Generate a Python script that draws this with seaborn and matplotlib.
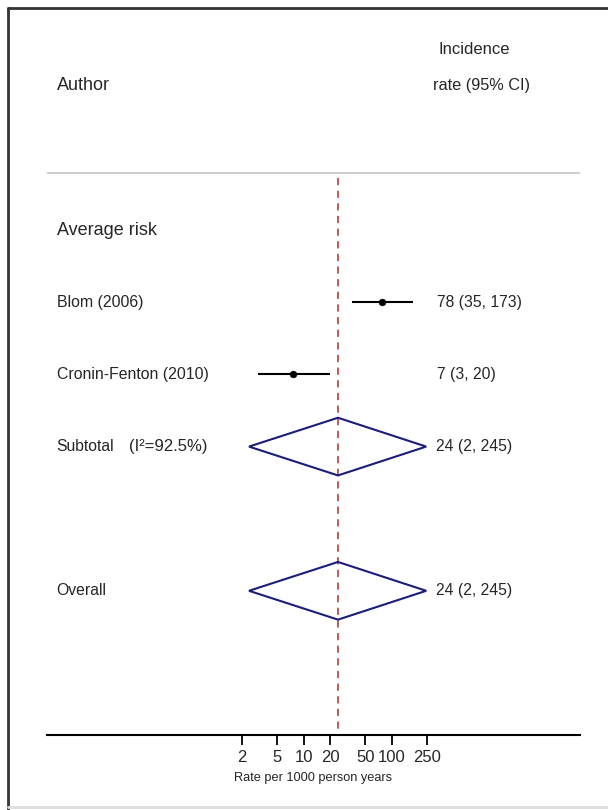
import numpy as np
import pandas as pd
import matplotlib.pyplot as plt
import seaborn as sns
from matplotlib.lines import Line2D
from matplotlib.patches import Polygon
from matplotlib.ticker import NullLocator
from matplotlib.transforms import blended_transform_factory

sns.set_style("white")
plt.rcParams["font.family"] = ["Liberation Sans", "DejaVu Sans"]

# Datos de los estudios
studies = ["Blom (2006)", "Cronin-Fenton (2010)"]
rates = [78, 7.5]
lower = [35, 3]
upper = [173, 20]
study_text = ["78 (35, 173)", "7 (3, 20)"]
study_rows = [1, 2]

# Estimaciones combinadas
pooled_labels = ["Subtotal", "Overall"]
pooled_rate = [24.5, 24.5]
pooled_lower = [2.4, 2.4]
pooled_upper = [245, 245]
pooled_text = ["24 (2, 245)", "24 (2, 245)"]
pooled_rows = [3, 5]

group_label = "Average risk"
heterogeneity = "(I²=92.5%)"
ticks = [2, 5, 10, 20, 50, 100, 250]

df = pd.DataFrame({"study": studies, "rate": rates, "lower": lower,
                   "upper": upper, "row": study_rows})

fig = plt.figure(figsize=(6.08, 8.10), dpi=100)
ax = fig.add_axes([47 / 608, 75 / 810, 533 / 608, 735 / 810])
ax.set_xscale("log")
ax.set_xlim(10 ** -1.910, 10 ** 4.133)
ax.set_ylim(7, -3.194)

# Intervalos de confianza y puntos
ax.hlines(df["row"], df["lower"], df["upper"], color="black", lw=1.5, zorder=2)
sns.scatterplot(data=df, x="rate", y="row", color="black", s=24,
                edgecolor="black", ax=ax, zorder=3, legend=False)

# Diamantes
for est, lo, hi, r in zip(pooled_rate, pooled_lower, pooled_upper, pooled_rows):
    ax.add_patch(Polygon([(lo, r), (est, r - 0.4), (hi, r), (est, r + 0.4)],
                         closed=True, fill=False, edgecolor="#1c1c7c", lw=1.5,
                         zorder=3))

# Linea del efecto global
ax.vlines(pooled_rate[-1], -0.72, 7, color="#b5504a", ls=(0, (4, 3)), lw=1.3,
          zorder=1)
ax.axhline(-0.79, color="#c4c4c4", lw=1.2)

# Textos
tr = blended_transform_factory(ax.transAxes, ax.transData)
xl = (57 - 47) / 533
xr = (437 - 47) / 533
ax.text(xl, -2.01, "Author", transform=tr, fontsize=13, va="center")
ax.text((439 - 47) / 533, -2.51, "Incidence", transform=tr, fontsize=12, va="center")
ax.text((433 - 47) / 533, -2.01, "rate (95% CI)", transform=tr, fontsize=11.7, va="center")
ax.text(xl, 0, group_label, transform=tr, fontsize=13, va="center")
for name, txt, r in zip(studies, study_text, study_rows):
    ax.text(xl, r, name, transform=tr, fontsize=11.4, va="center")
    ax.text(xr, r, txt, transform=tr, fontsize=11.3, va="center")
for name, txt, r in zip(pooled_labels, pooled_text, pooled_rows):
    ax.text(xl - 0.002, r, name, transform=tr, fontsize=11.3, va="center")
    ax.text(xr - 0.002, r, txt, transform=tr, fontsize=11.3, va="center")
ax.text((129 - 47) / 533, pooled_rows[0], heterogeneity, transform=tr,
        fontsize=12, va="center")

# Ejes
for s in ["top", "left", "right"]:
    ax.spines[s].set_visible(False)
ax.spines["bottom"].set_color("black")
ax.spines["bottom"].set_linewidth(1.5)
ax.set_xticks(ticks)
ax.set_xticklabels([str(t) for t in ticks])
ax.xaxis.set_minor_locator(NullLocator())
ax.tick_params(axis="x", length=7, width=1.3, labelsize=12, pad=4,
               bottom=True, color="black")
ax.set_yticks([])
ax.set_xlabel("Rate per 1000 person years", fontsize=9.2, labelpad=5)
ax.set_ylabel("")

# Marco de la figura
fig.add_artist(Line2D([8 / 608, 8 / 608], [0, 1 - 8 / 810],
                      transform=fig.transFigure, color="#333333", lw=2))
fig.add_artist(Line2D([8 / 608, 1], [1 - 8 / 810, 1 - 8 / 810],
                      transform=fig.transFigure, color="#333333", lw=2))
fig.add_artist(Line2D([8 / 608, 1], [3 / 810, 3 / 810],
                      transform=fig.transFigure, color="#dddddd", lw=2))

fig.savefig("out.png", dpi=100)
